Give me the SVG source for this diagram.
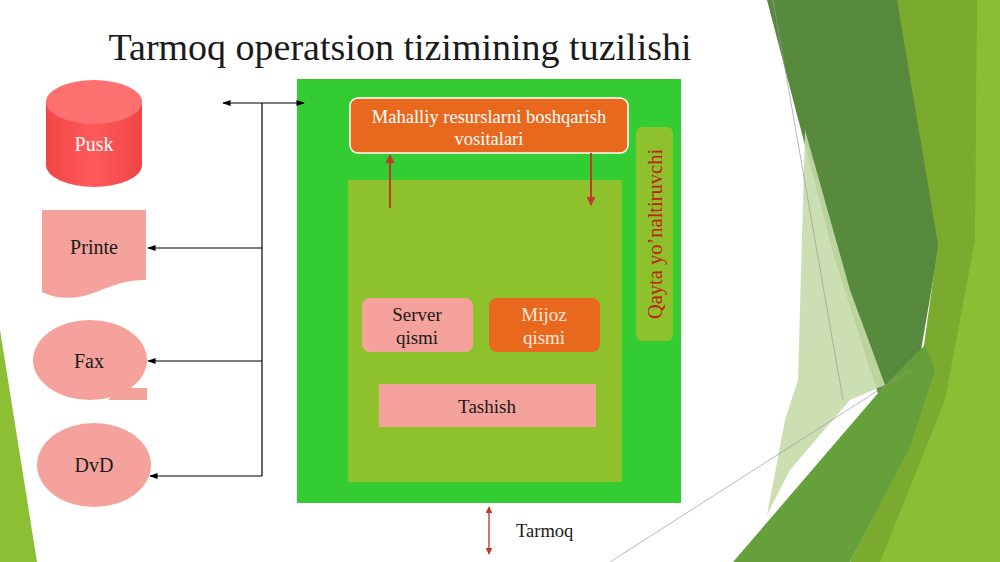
<svg xmlns="http://www.w3.org/2000/svg" width="1000" height="562" viewBox="0 0 1000 562" font-family="'Liberation Serif', 'Times New Roman', 'DejaVu Serif', serif">
<style>
  text{font-family:'Liberation Serif','Times New Roman','DejaVu Serif',serif;}
  .blk{fill:#1a1a1a;}
  .wht{fill:#ffffff;}
  .con{stroke:#000;stroke-width:1.2;fill:none;}
  .red{stroke:#c0392b;stroke-width:2;fill:none;}
  .salmon{fill:#f4a29b;}
  .orange{fill:#e8691e;}
  .olive{fill:#8dc22c;}
</style>
<defs>
  <marker id="ah" viewBox="0 0 10 10" refX="9" refY="5" markerWidth="7" markerHeight="7" orient="auto-start-reverse">
    <path d="M0,1.5 L10,5 L0,8.5 Z" fill="#000"/>
  </marker>
  <marker id="rh" viewBox="0 0 10 10" refX="9" refY="5" markerWidth="4.5" markerHeight="4.5" orient="auto-start-reverse">
    <path d="M0,0 L10,5 L0,10 Z" fill="#c0392b"/>
  </marker>
  <linearGradient id="cyl" x1="0" y1="0" x2="1" y2="0">
    <stop offset="0" stop-color="#f24646"/>
    <stop offset="0.5" stop-color="#ff5a5a"/>
    <stop offset="1" stop-color="#f04444"/>
  </linearGradient>
</defs>

<!-- background decoration -->
<g id="background">
  <rect width="1000" height="562" fill="#ffffff"/>
  <polygon points="0,330 37,562 0,562" fill="#8cbf34"/>
  <polygon points="767,0 900,0 940,240 915,385 880,400 835,260" fill="#578a3c"/>
  <polygon points="805,130 850,290 885,385 850,400 790,470 767,515 785,420 798,380" fill="#c6dbaa" opacity="0.9"/>
  <polygon points="897,0 1000,0 1000,562 850,562 910,445 938,245" fill="#7aab2e"/>
  <polygon points="977,0 1000,0 1000,562 880,562 945,400 975,240" fill="#8bbd35"/>
  <polygon points="733,562 885,385 925,345 935,370 910,447 850,562" fill="#65a03a"/>
  <line x1="773" y1="0" x2="843" y2="400" stroke="#9a9a9a" stroke-width="0.7"/>
  <line x1="610" y1="562" x2="910" y2="370" stroke="#9a9a9a" stroke-width="0.7"/>
</g>

<text class="blk" x="400" y="60" font-size="38" text-anchor="middle">Tarmoq operatsion tizimining tuzilishi</text>

<g id="pusk">
  <path d="M46,102 V165 A48,22 0 0 0 142,165 V102 Z" fill="url(#cyl)"/>
  <ellipse cx="94" cy="102" rx="48" ry="22" fill="#ff7070"/>
  <text class="wht" x="94" y="151" font-size="20" text-anchor="middle">Pusk</text>
</g>

<g id="printe">
  <path class="salmon" d="M42,210 H146 V280 C122,279 104,290 84,296 C66,300 52,297 42,292 Z"/>
  <text class="blk" x="94" y="254" font-size="20" text-anchor="middle">Printe</text>
</g>

<g id="fax">
  <ellipse class="salmon" cx="90" cy="360" rx="57" ry="40"/>
  <polygon class="salmon" points="118,390 130,388 147,388 147,400 108,400"/>
  <text class="blk" x="89" y="368" font-size="20" text-anchor="middle">Fax</text>
</g>

<g id="dvd">
  <ellipse class="salmon" cx="94" cy="465" rx="57" ry="42"/>
  <text class="blk" x="94" y="472" font-size="20" text-anchor="middle">DvD</text>
</g>

<g id="system">
  <rect x="297" y="79" width="384" height="424" fill="#33cc33"/>
</g>

<g id="inner">
  <rect class="olive" x="348" y="180" width="274" height="302"/>
</g>

<g id="connectors">
  <line class="con" x1="262" y1="103" x2="262" y2="476"/>
  <line class="con" x1="223" y1="103" x2="304" y2="103" marker-start="url(#ah)" marker-end="url(#ah)"/>
  <line class="con" x1="262" y1="248" x2="148" y2="248" marker-end="url(#ah)"/>
  <line class="con" x1="262" y1="361" x2="148" y2="361" marker-end="url(#ah)"/>
  <line class="con" x1="262" y1="476" x2="150" y2="476" marker-end="url(#ah)"/>
</g>

<g id="mahalliy">
  <rect class="orange" x="350" y="98" width="278" height="55" rx="8" stroke="#ffffff" stroke-width="1.5"/>
  <text class="wht" x="489" y="123" font-size="18.5" text-anchor="middle">Mahalliy resurslarni boshqarish</text>
  <text class="wht" x="489" y="145" font-size="18.5" text-anchor="middle">vositalari</text>
</g>

<g id="red-arrows">
  <line class="red" x1="390" y1="208" x2="390" y2="155" marker-end="url(#rh)"/>
  <line class="red" x1="591" y1="153" x2="591" y2="205" marker-end="url(#rh)"/>
</g>

<g id="qayta">
  <rect class="olive" x="636" y="127" width="37" height="214" rx="6"/>
  <text x="0" y="0" font-size="20.5" fill="#c0200f" text-anchor="middle" transform="translate(662,234) rotate(-90)">Qayta yo’naltiruvchi</text>
</g>

<g id="server">
  <rect class="salmon" x="362" y="298" width="111" height="54" rx="8"/>
  <text class="blk" x="417" y="321" font-size="19" text-anchor="middle">Server</text>
  <text class="blk" x="417" y="344" font-size="19" text-anchor="middle">qismi</text>
</g>

<g id="mijoz">
  <rect class="orange" x="489" y="298" width="111" height="54" rx="8"/>
  <text x="544" y="321" font-size="19" fill="#fbe7dc" text-anchor="middle">Mijoz</text>
  <text x="544" y="344" font-size="19" fill="#fbe7dc" text-anchor="middle">qismi</text>
</g>

<g id="tashish">
  <rect class="salmon" x="379" y="384" width="217" height="43"/>
  <text class="blk" x="487" y="413" font-size="19" text-anchor="middle">Tashish</text>
</g>

<g id="tarmoq">
  <line x1="489" y1="507" x2="489" y2="554" stroke="#c9483a" stroke-width="1.5" marker-start="url(#rh)" marker-end="url(#rh)"/>
  <text class="blk" x="516" y="537" font-size="18.5">Tarmoq</text>
</g>
</svg>
